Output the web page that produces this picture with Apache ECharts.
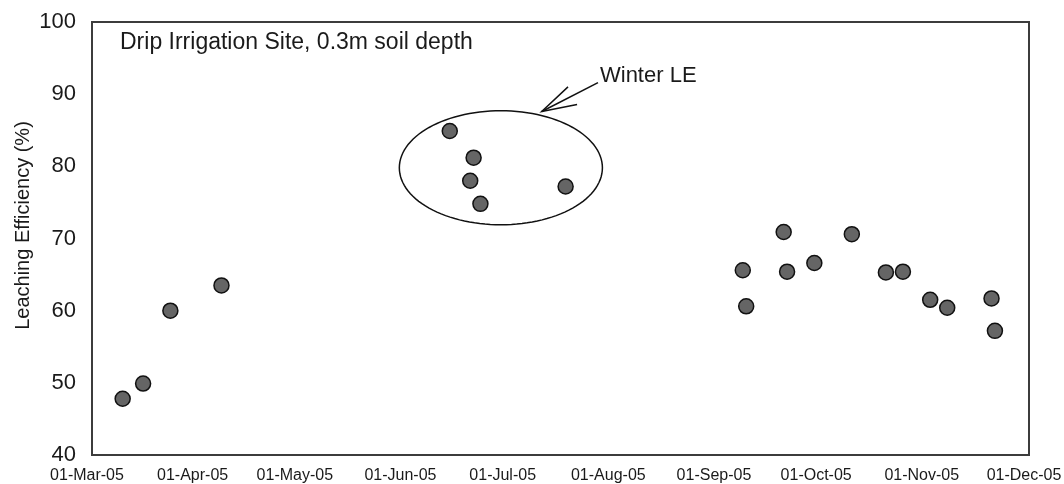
<!DOCTYPE html>
<html>
<head>
<meta charset="utf-8">
<script src="https://cdn.jsdelivr.net/npm/echarts@6/dist/echarts.min.js"></script>
<style>html,body{margin:0;padding:0;background:#fff}#c{width:1064px;height:484px}</style>
</head>
<body>
<div id="c"></div>
<script>
// --- data ---
const sampleDates = ['2005-03-10','2005-03-16','2005-03-24','2005-04-08','2005-06-14','2005-06-21','2005-06-20','2005-06-23','2005-07-18','2005-09-08','2005-09-09','2005-09-20','2005-09-21','2005-09-29','2005-10-10','2005-10-20','2005-10-25','2005-11-02','2005-11-07','2005-11-20','2005-11-21'];
const leachingEfficiency = [47.8,49.9,60.0,63.5,84.9,81.2,78.0,74.8,77.2,65.6,60.6,70.9,65.4,66.6,70.6,65.3,65.4,61.5,60.4,61.7,57.2];
const tickDates = ['2005-03-01','2005-04-01','2005-05-01','2005-06-01','2005-07-01','2005-08-01','2005-09-01','2005-10-01','2005-11-01','2005-12-01'];
const yTicks = [40,50,60,70,80,90,100];
const titleText = 'Drip Irrigation Site, 0.3m soil depth';
const yAxisTitle = 'Leaching Efficiency (%)';
const noteText = 'Winter LE';
// annotation anchors in data space: ellipse centre/half-axes, arrow tip/tail
const ellipseCentre = ['2005-06-29', 79.8];
const ellipseHalfDays = 29.8, ellipseHalfValue = 7.9;
const arrowTip = ['2005-07-11', 87.6];
const arrowTail = ['2005-07-27T12:00', 91.6];

const MONTHS = ['Jan','Feb','Mar','Apr','May','Jun','Jul','Aug','Sep','Oct','Nov','Dec'];
const ts = s => Date.parse(s.length > 10 ? s + 'Z' : s + 'T00:00:00Z');
const DAY = 86400000;
const fmtDate = v => { const d = new Date(v); return String(d.getUTCDate()).padStart(2,'0') + '-' + MONTHS[d.getUTCMonth()] + '-' + String(d.getUTCFullYear()).slice(2); };

const points = sampleDates.map((d, i) => [ts(d), leachingEfficiency[i]]);
const FONT = 'Liberation Sans, Arial, sans-serif';

const chart = echarts.init(document.getElementById('c'), null, {renderer: 'canvas'});
chart.setOption({
  animation: false,
  backgroundColor: '#fff',
  title: { text: titleText, left: 115, top: 26, textStyle: { fontFamily: FONT, fontSize: 23, fontWeight: 'normal', color: '#1a1a1a' } },
  grid: { left: 92, right: 35, top: 22, bottom: 29, outerBoundsMode: 'none', containLabel: false, show: true, borderColor: '#3c3c3c', borderWidth: 2, backgroundColor: 'transparent' },
  xAxis: {
    type: 'value', min: ts(tickDates[0]), max: ts(tickDates[tickDates.length-1]),
    splitLine: { show: false },
    axisLine: { show: true, lineStyle: { color: '#3c3c3c', width: 2 } },
    axisTick: { show: false },
    axisLabel: { customValues: tickDates.map(ts), formatter: fmtDate, fontFamily: FONT, fontSize: 16, color: '#1a1a1a', margin: 13, padding: [0, 10, 0, 0], showMinLabel: true, showMaxLabel: true }
  },
  yAxis: {
    type: 'value', min: yTicks[0], max: yTicks[yTicks.length-1], interval: 10,
    name: yAxisTitle, nameLocation: 'middle', nameGap: 59, nameMoveOverlap: false,
    nameTextStyle: { fontFamily: FONT, fontSize: 20, color: '#1a1a1a', padding: [0, 0, 0, 26] },
    splitLine: { show: false },
    axisLine: { show: true, lineStyle: { color: '#3c3c3c', width: 2 } },
    axisTick: { show: false },
    axisLabel: { fontFamily: FONT, fontSize: 22, color: '#1a1a1a', margin: 16 }
  },
  series: [
    {
      type: 'custom', silent: true, z: 1,
      data: [[ts(ellipseCentre[0]), ellipseCentre[1]]],
      renderItem: (params, api) => {
        const c = api.coord([ts(ellipseCentre[0]), ellipseCentre[1]]);
        const e = api.coord([ts(ellipseCentre[0]) + ellipseHalfDays*DAY, ellipseCentre[1] + ellipseHalfValue]);
        const rx = e[0] - c[0], ry = c[1] - e[1];
        const pts = [];
        for (let k = 0; k < 120; k++) { const a = k/120*2*Math.PI; pts.push([c[0] + rx*Math.cos(a), c[1] + ry*Math.sin(a)]); }
        const tip = api.coord([ts(arrowTip[0]), arrowTip[1]]);
        const tail = api.coord([ts(arrowTail[0]), arrowTail[1]]);
        const ang = Math.atan2(tail[1]-tip[1], tail[0]-tip[0]);
        const L = 36, spread = 16*Math.PI/180;
        const arm = s => [tip[0] + L*Math.cos(ang + s*spread), tip[1] + L*Math.sin(ang + s*spread)];
        const ls = { stroke: '#111', lineWidth: 1.5, fill: null };
        return { type: 'group', children: [
          { type: 'polygon', shape: { points: pts }, style: { stroke: '#111', lineWidth: 1.5, fill: null } },
          { type: 'line', shape: { x1: tail[0], y1: tail[1], x2: tip[0], y2: tip[1] }, style: ls },
          { type: 'polyline', shape: { points: [arm(1), tip, arm(-1)] }, style: ls },
          { type: 'text', x: tail[0] + 2, y: tail[1] - 7, style: { text: noteText, fontFamily: FONT, fontSize: 22, fill: '#1a1a1a', verticalAlign: 'middle', align: 'left' } }
        ]};
      }
    },
    {
      type: 'scatter', z: 3, data: points, symbol: 'circle', symbolSize: 15,
      itemStyle: { color: '#656565', borderColor: '#111', borderWidth: 1.5, opacity: 1 }
    }
  ]
});
</script>
</body>
</html>
